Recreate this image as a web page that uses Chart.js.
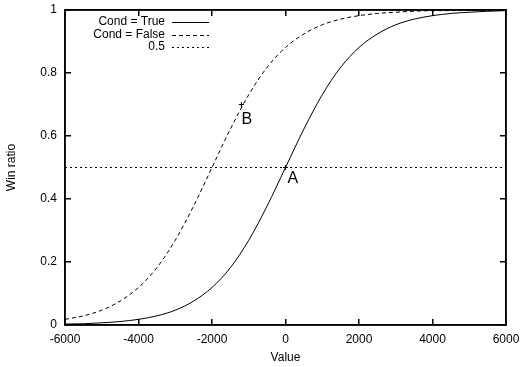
<!DOCTYPE html>
<html>
<head>
<meta charset="utf-8">
<script src="https://cdn.jsdelivr.net/npm/chart.js@4.4.1/dist/chart.umd.min.js"></script>
<style>
  html, body { margin: 0; padding: 0; background: #fff; }
</style>
</head>
<body>
<canvas id="myChart" width="521" height="367"></canvas>
<script>
// values
const xValues = [-6000, -5500, -5000, -4500, -4000, -3500, -3000, -2500, -2000, -1500, -1000, -500,
  0, 500, 1000, 1500, 2000, 2500, 3000, 3500, 4000, 4500, 5000, 5500, 6000];
const condTrue = [0.003, 0.004, 0.007, 0.011, 0.018, 0.029, 0.047, 0.076, 0.119, 0.182, 0.269, 0.378,
  0.5, 0.622, 0.731, 0.818, 0.881, 0.924, 0.953, 0.971, 0.982, 0.989, 0.993, 0.996, 0.998];
const condFalse = [0.018, 0.029, 0.047, 0.076, 0.119, 0.182, 0.269, 0.378, 0.5, 0.622, 0.731, 0.818,
  0.881, 0.924, 0.953, 0.971, 0.982, 0.989, 0.993, 0.996, 0.998, 0.998, 0.999, 0.999, 1.0];
const halfX = [-6000, 6000];
const halfY = [0.5, 0.5];
const markX = [0, -1200];
const markY = [0.5, 0.7];
const markLabels = ['A', 'B'];
const seriesNames = ['Cond = True', 'Cond = False', '0.5'];
const xRange = [-6000, 6000];
const yRange = [0, 1];

const FONT = 'Liberation Sans, Arial, Helvetica, sans-serif';

function pts(xs, ys) {
  return xs.map((x, i) => ({ x: x, y: ys[i] }));
}

// box round the plot, traced along the axis limits
const frameX = [xRange[0], xRange[0], xRange[1], xRange[1], xRange[0]];
const frameY = [yRange[0], yRange[1], yRange[1], yRange[0], yRange[0]];

// point labels and the key, gnuplot style
const gnuplotBits = {
  id: 'gnuplotBits',
  afterDraw(chart) {
    const c = chart.ctx;
    const sx = chart.scales.x, sy = chart.scales.y;
    c.save();
    c.fillStyle = '#000';
    c.font = '16px ' + FONT;
    c.textAlign = 'left';
    c.textBaseline = 'middle';
    markLabels.forEach((lab, i) => {
      const px = sx.getPixelForValue(markX[i]);
      const py = sy.getPixelForValue(markY[i]);
      c.fillText(lab, px + (lab === 'A' ? 2 : 0), py + (lab === 'A' ? 11 : 15));
    });

    c.font = '12px ' + FONT;
    c.textAlign = 'right';
    c.strokeStyle = '#000';
    c.lineWidth = 1;
    const rows = [22, 34.5, 47];
    seriesNames.forEach((name, i) => {
      const ds = chart.data.datasets[i];
      c.fillText(name, 165, rows[i]);
      c.setLineDash(ds.borderDash || []);
      c.beginPath();
      c.moveTo(172, Math.round(rows[i]) + 0.5);
      c.lineTo(209, Math.round(rows[i]) + 0.5);
      c.stroke();
    });
    c.restore();
  }
};

// inward tick marks: negative tick length, no lines across the plot
const inwardGrid = { display: true, drawOnChartArea: false, drawTicks: true, tickLength: -6, color: '#000', lineWidth: 1.5 };
const frameBorder = { display: true, color: '#000', width: 1.5 };

new Chart(document.getElementById('myChart'), {
  type: 'line',
  data: {
    datasets: [
      {
        label: seriesNames[0],
        data: pts(xValues, condTrue),
        borderColor: '#000', borderWidth: 1, pointRadius: 0,
        cubicInterpolationMode: 'monotone'
      },
      {
        label: seriesNames[1],
        data: pts(xValues, condFalse),
        borderColor: '#000', borderWidth: 1, pointRadius: 0,
        borderDash: [4, 3],
        cubicInterpolationMode: 'monotone'
      },
      {
        label: seriesNames[2],
        data: pts(halfX, halfY),
        borderColor: '#000', borderWidth: 1, pointRadius: 0,
        borderDash: [2, 3]
      },
      {
        type: 'scatter',
        label: 'marks',
        data: pts(markX, markY),
        borderColor: '#000', borderWidth: 1,
        pointStyle: 'cross', pointRadius: 2.5,
        showLine: false
      },
      {
        label: 'frame',
        data: pts(frameX, frameY),
        borderColor: '#000', borderWidth: 1.5, pointRadius: 0,
        tension: 0, clip: 3
      }
    ]
  },
  options: {
    responsive: false,
    devicePixelRatio: 1,
    animation: false,
    layout: { padding: { top: 10, right: 15, left: 0, bottom: 0 } },
    plugins: {
      legend: { display: false },
      tooltip: { enabled: false }
    },
    scales: {
      x: {
        type: 'linear',
        position: 'bottom',
        min: xRange[0], max: xRange[1],
        grid: inwardGrid,
        border: frameBorder,
        ticks: { stepSize: 2000, color: '#000', padding: 13, font: { family: FONT, size: 12 },
          callback: v => String(v) },
        title: { display: true, text: 'Value', color: '#000', padding: { top: 0, bottom: 2 },
          font: { family: FONT, size: 12 } },
        afterFit(scale) { scale.height = 42; scale.paddingLeft = 0; scale.paddingRight = 0; }
      },
      x2: {
        type: 'linear',
        position: 'top',
        min: xRange[0], max: xRange[1],
        grid: inwardGrid,
        border: frameBorder,
        ticks: { stepSize: 2000, display: false },
        afterFit(scale) { scale.height = 0; scale.paddingLeft = 0; scale.paddingRight = 0; }
      },
      y: {
        position: 'left',
        min: yRange[0], max: yRange[1],
        grid: inwardGrid,
        border: frameBorder,
        ticks: { stepSize: 0.2, color: '#000', padding: 14, font: { family: FONT, size: 12 },
          callback: v => (v === 0 || v === 1) ? String(v) : v.toFixed(1) },
        title: { display: true, text: 'Win ratio', color: '#000', padding: { top: 4, bottom: 0 },
          font: { family: FONT, size: 12 } },
        afterFit(scale) { scale.width = 65; scale.paddingTop = 0; scale.paddingBottom = 0; }
      },
      y2: {
        type: 'linear',
        position: 'right',
        min: yRange[0], max: yRange[1],
        grid: inwardGrid,
        border: frameBorder,
        ticks: { stepSize: 0.2, display: false },
        afterFit(scale) { scale.width = 0; scale.paddingTop = 0; scale.paddingBottom = 0; }
      }
    }
  },
  plugins: [gnuplotBits]
});
</script>
</body>
</html>
